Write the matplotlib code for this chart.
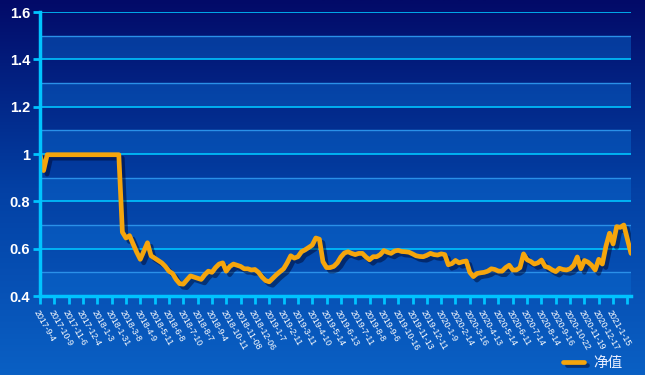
import numpy as np
import matplotlib
matplotlib.use("Agg")
import matplotlib.pyplot as plt
from matplotlib import patheffects as pe
from matplotlib.colors import LinearSegmentedColormap

# x tick labels (one every 4 data points)
date_labels = [
    "2017-9-4", "2017-10-9", "2017-11-6", "2017-12-4", "2018-1-3", "2018-1-31",
    "2018-3-8", "2018-4-9", "2018-5-11", "2018-6-8", "2018-7-10", "2018-8-7",
    "2018-9-4", "2018-10-11", "2018-11-08", "2018-12-06", "2019-1-7", "2019-2-11",
    "2019-3-11", "2019-4-10", "2019-5-14", "2019-6-13", "2019-7-11", "2019-8-8",
    "2019-9-6", "2019-10-16", "2019-11-13", "2019-12-11", "2020-1-9", "2020-2-14",
    "2020-3-16", "2020-4-13", "2020-5-14", "2020-6-11", "2020-7-14", "2020-8-14",
    "2020-9-16", "2020-10-22", "2020-11-19", "2020-12-17", "2021-1-15",
]
points_per_label = 4

# net value (净值)
nav = [
    0.997, 0.93, 0.997, 0.997, 0.997, 0.997, 0.997, 0.997, 0.997, 0.997,
    0.997, 0.997, 0.997, 0.997, 0.997, 0.997, 0.997, 0.997, 0.997, 0.997,
    0.997, 0.997, 0.997, 0.67, 0.645, 0.655, 0.62, 0.585, 0.555, 0.59,
    0.625, 0.57, 0.56, 0.55, 0.54, 0.525, 0.505, 0.495, 0.47, 0.452,
    0.45, 0.468, 0.485, 0.48, 0.475, 0.47, 0.49, 0.505, 0.5, 0.52,
    0.535, 0.54, 0.505, 0.525, 0.535, 0.53, 0.525, 0.515, 0.515, 0.51,
    0.512, 0.5, 0.48, 0.465, 0.46, 0.475, 0.49, 0.503, 0.515, 0.54,
    0.57, 0.56, 0.566, 0.587, 0.595, 0.605, 0.615, 0.645, 0.64, 0.545,
    0.52, 0.52, 0.525, 0.54, 0.565, 0.582, 0.587, 0.58, 0.575, 0.58,
    0.58, 0.565, 0.553, 0.566, 0.566, 0.575, 0.592, 0.585, 0.58, 0.59,
    0.593, 0.588, 0.587, 0.585, 0.578, 0.57, 0.567, 0.566, 0.572, 0.58,
    0.575, 0.573, 0.578, 0.575, 0.532, 0.537, 0.55, 0.54, 0.545, 0.548,
    0.5, 0.482, 0.495, 0.498, 0.5, 0.505, 0.515, 0.512, 0.505, 0.505,
    0.52, 0.53, 0.51, 0.51, 0.52, 0.578, 0.553, 0.546, 0.535, 0.54,
    0.552, 0.525, 0.52, 0.51, 0.503, 0.517, 0.512, 0.51, 0.515, 0.53,
    0.565, 0.515, 0.55, 0.543, 0.53, 0.51, 0.555, 0.535, 0.61, 0.665,
    0.62, 0.693, 0.69, 0.7, 0.64, 0.58,
]

y_ticks = [0.4, 0.6, 0.8, 1.0, 1.2, 1.4, 1.6]
y_tick_labels = ["0.4", "0.6", "0.8", "1", "1.2", "1.4", "1.6"]

CYAN = "#00c4ff"
LINE = "#f5a50c"

fig = plt.figure(figsize=(6.45, 3.75), dpi=100)

# gradient background for the whole figure
bg = fig.add_axes([0, 0, 1, 1], zorder=-10)
cmap = LinearSegmentedColormap.from_list("bg", ["#020a68", "#0340a4", "#0a60c4"])
bg.imshow(np.linspace(0, 1, 256).reshape(-1, 1), aspect="auto", cmap=cmap,
          extent=[0, 1, 0, 1], origin="upper")
bg.set_axis_off()

ax = fig.add_axes([40 / 645, 79 / 375, 591 / 645, 284 / 375])
ax.patch.set_alpha(0)

# alternating bands
for lo in [0.4, 0.6, 0.8, 1.0, 1.2, 1.4]:
    ax.axhspan(lo, lo + 0.1, color="#0a6ad0", alpha=0.45, lw=0, zorder=0)

# grid lines
for v in np.arange(0.5, 1.61, 0.1):
    major = abs(round(v * 10) % 2) == 0
    ax.axhline(v, color=CYAN if major else "#2a90e8", lw=1.2 if major else 1.0,
               zorder=1)

shadow = [pe.SimpleLineShadow(offset=(2.5, -2.5), shadow_color="#000020", alpha=0.45),
          pe.Normal()]
x = np.arange(len(nav)) / points_per_label
line, = ax.plot(x, nav, color=LINE, lw=3.4, solid_joinstyle="round",
                solid_capstyle="round", zorder=5, path_effects=shadow, label="净值")

ax.set_ylim(0.4, 1.6)
ax.set_xlim(0, 41.25)

for s in ["top", "right"]:
    ax.spines[s].set_visible(False)
for s in ["left", "bottom"]:
    ax.spines[s].set_color(CYAN)
    ax.spines[s].set_linewidth(2.5)
    ax.spines[s].set_zorder(6)

ax.set_yticks(y_ticks)
ax.set_yticklabels(y_tick_labels, fontsize=10.5, fontweight="bold", color="white",
                   family="Liberation Sans")
ax.tick_params(axis="y", colors=CYAN, length=5, width=2, pad=2, labelcolor="white")

ax.set_xticks(np.arange(len(date_labels) + 1))
ax.set_xticklabels(date_labels + [""], fontsize=6.3, color="white",
                   family="Liberation Sans", rotation=-60, ha="left", va="top",
                   rotation_mode="anchor")
ax.tick_params(axis="x", colors=CYAN, length=6, width=2, pad=3, labelcolor="white")

# legend
leg = ax.legend(handles=[line], loc="center left", bbox_to_anchor=(510 / 591, -0.235),
                frameon=False, handlelength=1.4, handletextpad=0.7,
                prop={"family": ["Noto Sans CJK SC", "DejaVu Sans"], "size": 10.5})
for t in leg.get_texts():
    t.set_color("#e8eeff")

fig.savefig("out.png", dpi=100)
